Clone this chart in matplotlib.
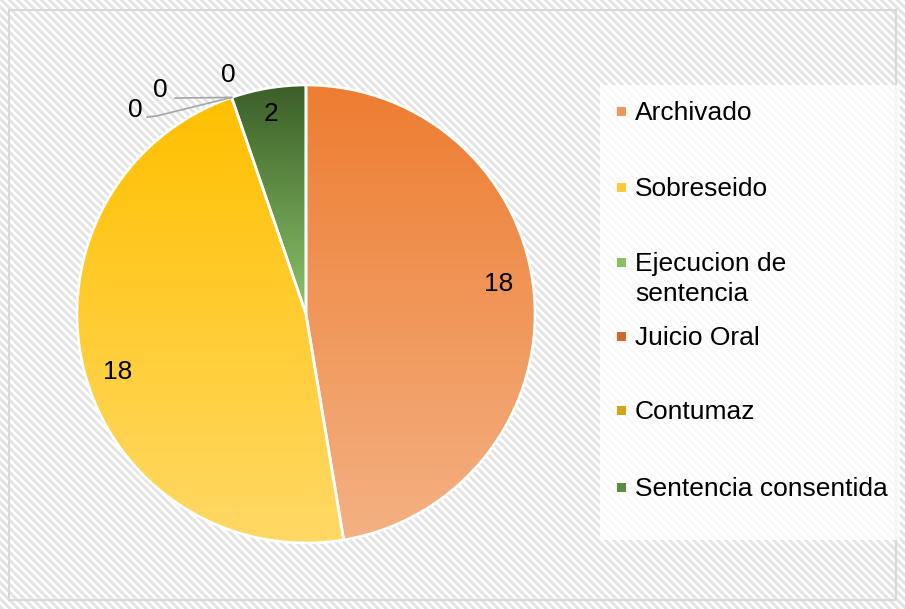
import numpy as np
import matplotlib
matplotlib.use('Agg')
import matplotlib.pyplot as plt
from matplotlib.patches import Rectangle
from matplotlib.colors import LinearSegmentedColormap

categories = ["Archivado", "Sobreseido", "Ejecucion de sentencia", "Juicio Oral", "Contumaz", "Sentencia consentida"]
values = [18, 18, 0, 0, 0, 2]
legend_labels = ["Archivado", "Sobreseido", "Ejecucion de\nsentencia", "Juicio Oral", "Contumaz", "Sentencia consentida"]

top_colors = ['#ED7D31', '#FFC000', '#70AD47', '#C55A11', '#BF9000', '#3B5F28']
bottom_colors = ['#F4B183', '#FFD966', '#A9D18E', '#E2803F', '#E6B91E', '#8CC46A']
legend_colors = ['#F0975A', '#FFC93A', '#86C062', '#CF6A2C', '#D4A414', '#5A8E3E']

W, H = 905, 609
plt.rcParams['font.family'] = ['Liberation Sans', 'DejaVu Sans']

fig = plt.figure(figsize=(W / 100, H / 100), dpi=100)
fig.patch.set_facecolor('white')


def fx(px):
    return px / W


def fy(py):
    return 1 - py / H


# hatched background (pixel pattern of diagonal stripes)
yy, xx = np.mgrid[0:H, 0:W]
stripe = ((xx - yy) % 8) < 4
bgimg = np.full((H, W, 3), 255, dtype=np.uint8)
bgimg[stripe] = 228
fig.figimage(bgimg, xo=0, yo=0, origin='upper', zorder=-3)

# chart border
border = Rectangle((fx(9), fy(600)), fx(896) - fx(9), fy(10) - fy(600),
                   transform=fig.transFigure, facecolor='none',
                   edgecolor='#d9d9d9', linewidth=1.5, zorder=-2)
fig.add_artist(border)
# legend background
legbox = Rectangle((fx(600), fy(540)), fx(900) - fx(600), fy(85) - fy(540),
                   transform=fig.transFigure, facecolor='white', alpha=0.75,
                   edgecolor='none', zorder=-1)
fig.add_artist(legbox)

cx, cy, R = 306, 314, 229
ax = fig.add_axes([fx(cx - R), fy(cy + R), 2 * R / W, 2 * R / H])
ax.set_axis_off()

wedges, _ = ax.pie(values, startangle=90, counterclock=False, radius=1,
                   colors=top_colors,
                   wedgeprops=dict(edgecolor='white', linewidth=1.9))

grad = np.linspace(0, 1, 256).reshape(-1, 1)
for w, v, c0, c1 in zip(wedges, values, top_colors, bottom_colors):
    if v <= 0:
        continue
    path = w.get_path().transformed(w.get_patch_transform())
    ext = path.get_extents()
    cmap = LinearSegmentedColormap.from_list('g', [c0, c1])
    im = ax.imshow(grad, cmap=cmap, extent=[ext.x0, ext.x1, ext.y0, ext.y1],
                   origin='upper', aspect='auto', zorder=1, interpolation='bilinear')
    im.set_clip_path(w)
    w.set_facecolor('none')
    w.set_zorder(2)

# data labels for non-zero slices
label_r = [0.85, 0.86, 0, 0, 0, 0.886]
label_dang = [4.0, 3.0, 0, 0, 0, 0.4]
for w, v, r, da in zip(wedges, values, label_r, label_dang):
    if v <= 0:
        continue
    ang = np.deg2rad((w.theta1 + w.theta2) / 2 + da)
    ax.text(r * np.cos(ang), r * np.sin(ang), str(v), ha='center', va='center',
            fontsize=19, color='black', zorder=5)

# zero-value labels with leader lines
zero_label_pos = [(-0.747, 0.891), (-0.638, 0.978), (-0.341, 1.044)]
zero_idx = [i for i, v in enumerate(values) if v == 0]
for k, i in enumerate(zero_idx):
    w = wedges[i]
    ang = np.deg2rad(w.theta1)
    px0, py0 = np.cos(ang), np.sin(ang)
    lx, ly = zero_label_pos[k]
    ax.text(lx, ly, str(values[i]), ha='center', va='center', fontsize=19,
            color='black', zorder=5, clip_on=False)
    if k == 0:
        ax.plot([px0, lx + 0.096, lx + 0.053], [py0, ly - 0.026, ly - 0.031],
                color='#a6a6a6', lw=1.2, clip_on=False, zorder=4)
    elif k == 1:
        ax.plot([px0, lx + 0.066], [py0, ly - 0.035],
                color='#a6a6a6', lw=1.2, clip_on=False, zorder=4)

ax.set_xlim(-1, 1)
ax.set_ylim(-1, 1)

# legend
marker_y = [111, 187, 262, 336, 410, 487]
line_gap = 30
for lab, col, my in zip(legend_labels, legend_colors, marker_y):
    fig.add_artist(Rectangle((fx(617), fy(my + 4.5)), 9 / W, 9 / H,
                             transform=fig.transFigure, facecolor=col,
                             edgecolor='none', zorder=2))
    nlines = lab.count('\n')
    for j, part in enumerate(lab.split('\n')):
        fig.text(fx(635), fy(my + 9 + j * line_gap), part, ha='left', va='baseline',
                 fontsize=19, color='black', zorder=3)

fig.savefig('out.png', dpi=100)
